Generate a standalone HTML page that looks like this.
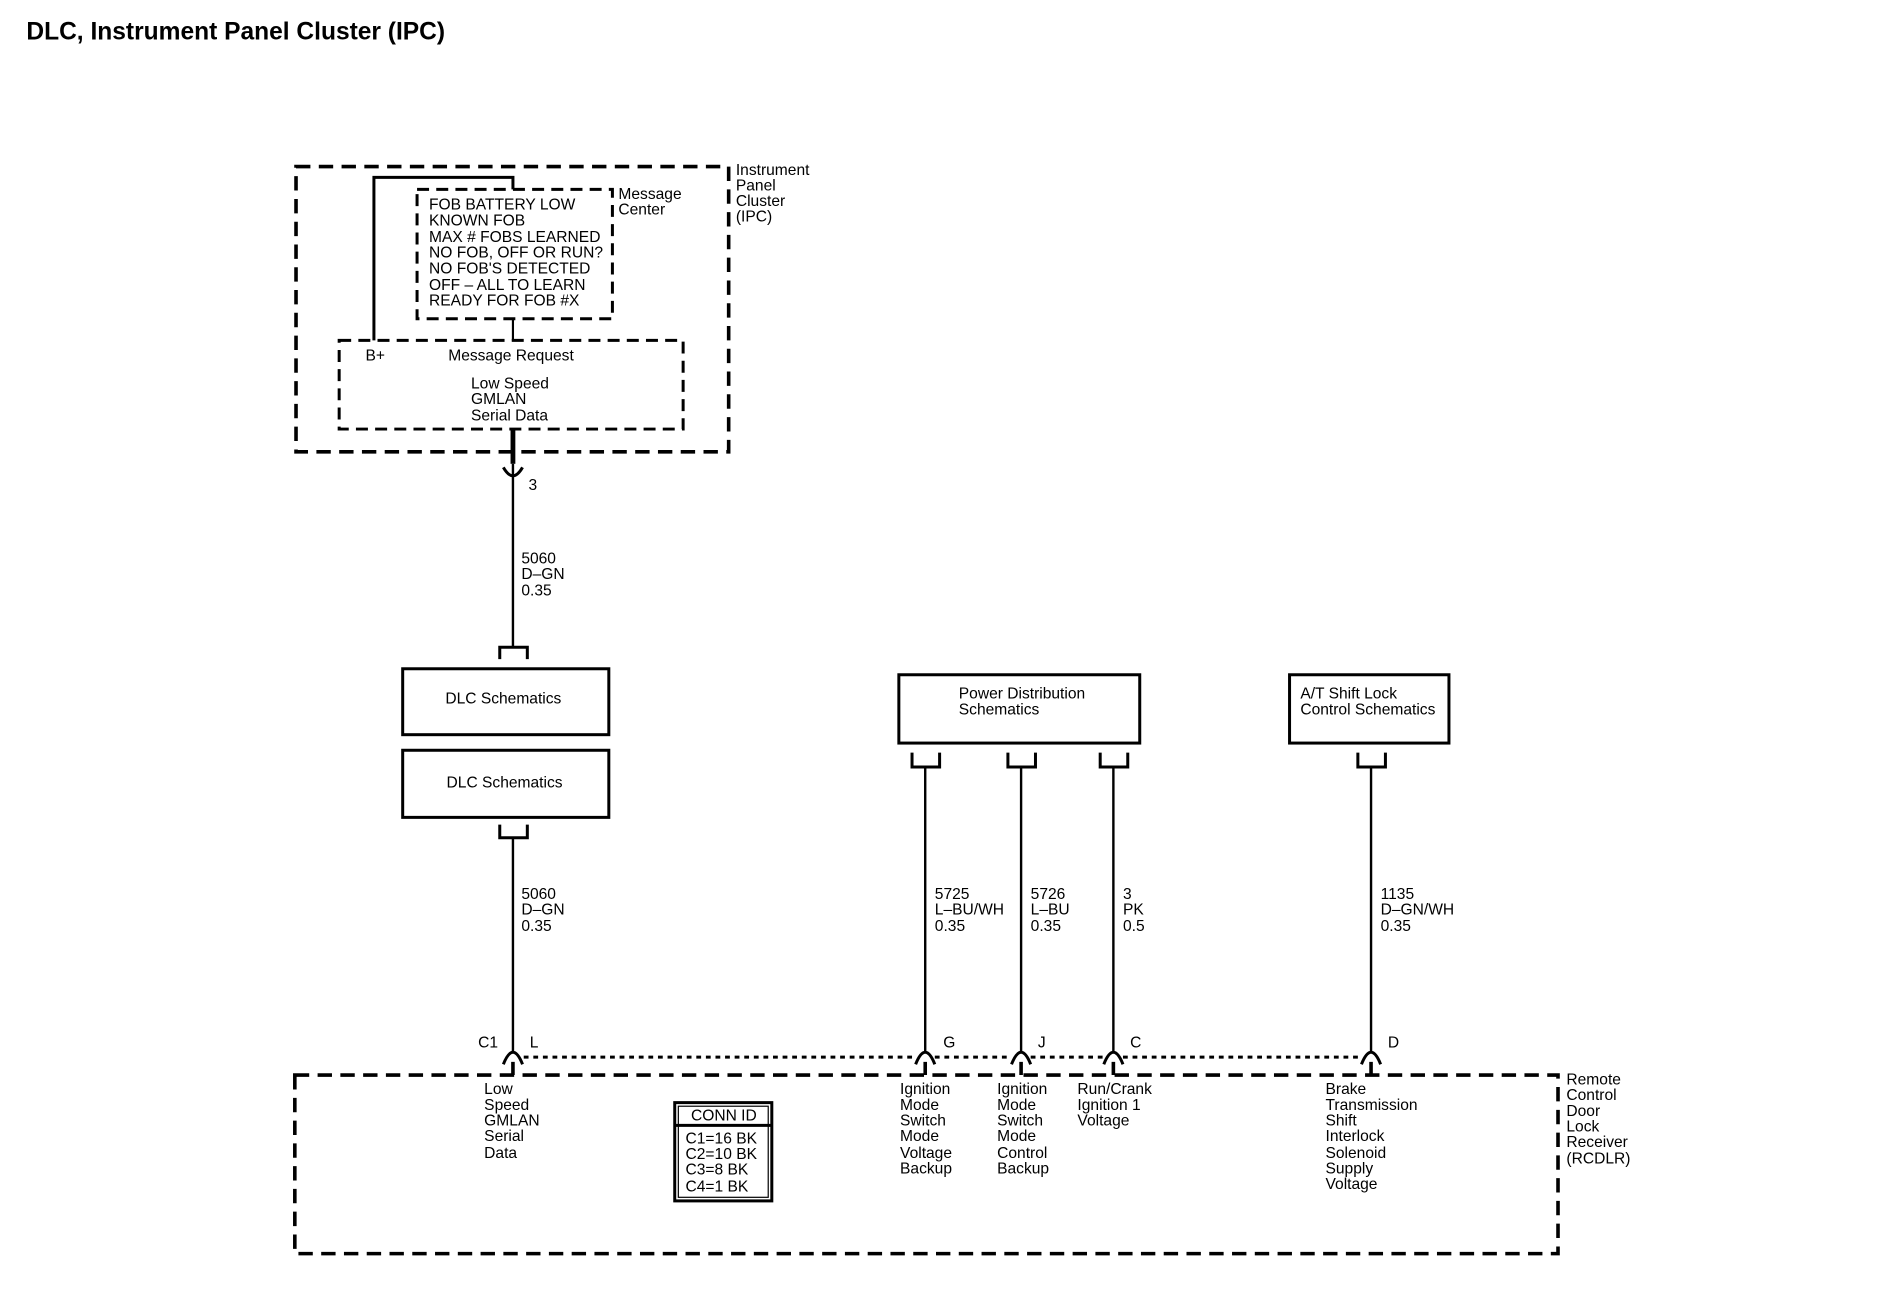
<!DOCTYPE html>
<html><head><meta charset="utf-8"><style>
html,body{margin:0;padding:0;background:#fff;}
svg{display:block;}
text{font-family:"Liberation Sans Narrow","Liberation Sans",sans-serif;font-size:13px;fill:#000;}
.t{font-family:"Liberation Sans",sans-serif;font-weight:bold;font-size:20.5px;}
</style></head><body>
<svg width="1878" height="1312" viewBox="0 0 1567 1094.7" preserveAspectRatio="none" xmlns="http://www.w3.org/2000/svg">
<text class="t" x="22" y="33">DLC, Instrument Panel Cluster (IPC)</text>
<g fill="none" stroke="#000">
<rect x="247" y="139" width="361" height="238" stroke-width="3" stroke-dasharray="12 7"/>
<rect x="348" y="158" width="163" height="108" stroke-width="2.5" stroke-dasharray="10 6"/>
<rect x="283" y="284" width="287" height="74" stroke-width="2.5" stroke-dasharray="10 6"/>
<path d="M312 284 V148 H428 V158" stroke-width="2.5"/>
<path d="M428 266 V284" stroke-width="1.8"/>
<path d="M428 358 V387" stroke-width="4"/>
<path d="M428 387 V540" stroke-width="2"/>
<path d="M420 390 Q428 404 436 390" stroke-width="2.5"/>
<rect x="336" y="558" width="172" height="55" stroke-width="2.5"/>
<rect x="336" y="626" width="172" height="56" stroke-width="2.5"/>
<path d="M417 550 V540 H440 V550" stroke-width="2.5"/>
<path d="M417 688 V699 H440 V688" stroke-width="2.5"/>
<path d="M428 699 V878" stroke-width="2"/>
<rect x="750" y="563" width="201" height="57" stroke-width="2.5"/>
<rect x="1076" y="563" width="133" height="57" stroke-width="2.5"/>
<path d="M761 628 V640 H784 V628 M841 628 V640 H864 V628 M918 628 V640 H941 V628 M1133 628 V640 H1156 V628" stroke-width="2.5"/>
<path d="M772 640 V878 M852 640 V878 M929 640 V878 M1144 640 V878" stroke-width="2"/>
<path d="M437 882 H764 M780 882 H844 M860 882 H921 M937 882 H1136" stroke-width="2.5" stroke-dasharray="4 4"/>
<path d="M420 888 Q428 868 436 888 M764 888 Q772 868 780 888 M844 888 Q852 868 860 888 M921 888 Q929 868 937 888 M1136 888 Q1144 868 1152 888" stroke-width="2.5"/>
<path d="M428 886 V897 M772 886 V897 M852 886 V897 M929 886 V897 M1144 886 V897" stroke-width="3"/>
<rect x="246" y="897" width="1054" height="149" stroke-width="3" stroke-dasharray="12 7"/>
<rect x="563" y="920" width="81" height="82" stroke-width="2.5"/>
<rect x="566" y="923" width="75" height="76" stroke-width="1"/>
<path d="M563 939 H644" stroke-width="2.5"/>
</g>
<text x="614" y="146">Instrument</text><text x="614" y="159">Panel</text><text x="614" y="172">Cluster</text><text x="614" y="185">(IPC)</text>
<text x="516" y="166">Message</text><text x="516" y="179">Center</text>
<text x="358" y="175">FOB BATTERY LOW</text>
<text x="358" y="188">KNOWN FOB</text>
<text x="358" y="202">MAX # FOBS LEARNED</text>
<text x="358" y="215">NO FOB, OFF OR RUN?</text>
<text x="358" y="228">NO FOB'S DETECTED</text>
<text x="358" y="242">OFF – ALL TO LEARN</text>
<text x="358" y="255">READY FOR FOB #X</text>
<text x="305" y="301">B+</text>
<text x="374" y="301">Message Request</text>
<text x="393" y="324">Low Speed</text><text x="393" y="337">GMLAN</text><text x="393" y="351">Serial Data</text>
<text x="441" y="409">3</text>
<text x="435" y="470">5060</text><text x="435" y="483">D–GN</text><text x="435" y="497">0.35</text>
<text x="420" y="587" text-anchor="middle">DLC Schematics</text>
<text x="421" y="657" text-anchor="middle">DLC Schematics</text>
<text x="435" y="750">5060</text><text x="435" y="763">D–GN</text><text x="435" y="777">0.35</text>
<text x="800" y="583">Power Distribution</text><text x="800" y="596">Schematics</text>
<text x="1085" y="583">A/T Shift Lock</text><text x="1085" y="596">Control Schematics</text>
<text x="780" y="750">5725</text><text x="780" y="763">L–BU/WH</text><text x="780" y="777">0.35</text>
<text x="860" y="750">5726</text><text x="860" y="763">L–BU</text><text x="860" y="777">0.35</text>
<text x="937" y="750">3</text><text x="937" y="763">PK</text><text x="937" y="777">0.5</text>
<text x="1152" y="750">1135</text><text x="1152" y="763">D–GN/WH</text><text x="1152" y="777">0.35</text>
<text x="399" y="874">C1</text><text x="442" y="874">L</text>
<text x="787" y="874">G</text><text x="866" y="874">J</text><text x="943" y="874">C</text><text x="1158" y="874">D</text>
<text x="404" y="913">Low</text><text x="404" y="926">Speed</text><text x="404" y="939">GMLAN</text><text x="404" y="952">Serial</text><text x="404" y="966">Data</text>
<text x="604" y="935" text-anchor="middle">CONN ID</text>
<text x="572" y="954">C1=16 BK</text><text x="572" y="967">C2=10 BK</text><text x="572" y="980">C3=8 BK</text><text x="572" y="994">C4=1 BK</text>
<text x="751" y="913">Ignition</text><text x="751" y="926">Mode</text><text x="751" y="939">Switch</text><text x="751" y="952">Mode</text><text x="751" y="966">Voltage</text><text x="751" y="979">Backup</text>
<text x="832" y="913">Ignition</text><text x="832" y="926">Mode</text><text x="832" y="939">Switch</text><text x="832" y="952">Mode</text><text x="832" y="966">Control</text><text x="832" y="979">Backup</text>
<text x="899" y="913">Run/Crank</text><text x="899" y="926">Ignition 1</text><text x="899" y="939">Voltage</text>
<text x="1106" y="913">Brake</text><text x="1106" y="926">Transmission</text><text x="1106" y="939">Shift</text><text x="1106" y="952">Interlock</text><text x="1106" y="966">Solenoid</text><text x="1106" y="979">Supply</text><text x="1106" y="992">Voltage</text>
<text x="1307" y="905">Remote</text><text x="1307" y="918">Control</text><text x="1307" y="931">Door</text><text x="1307" y="944">Lock</text><text x="1307" y="957">Receiver</text><text x="1307" y="971">(RCDLR)</text>
</svg>
</body></html>
